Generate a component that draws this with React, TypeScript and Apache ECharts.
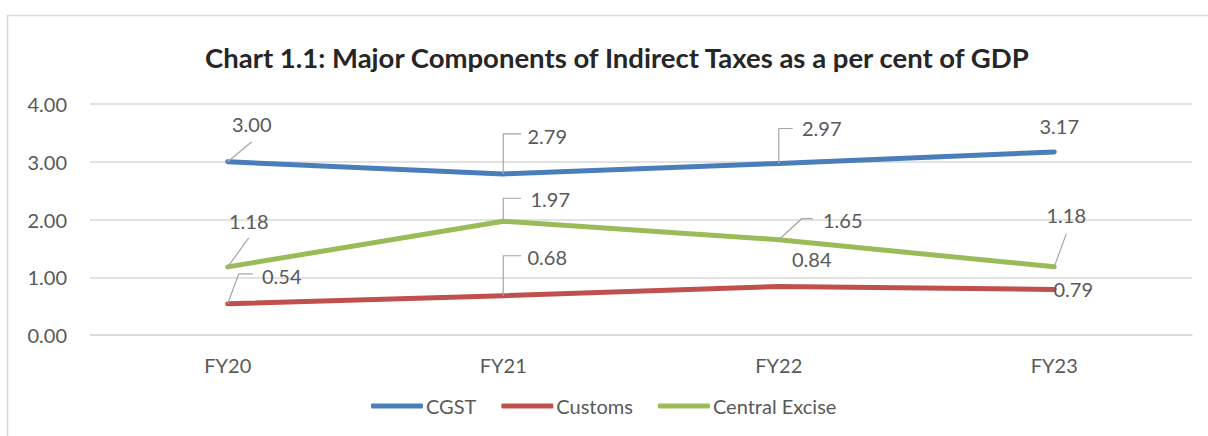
import React, { useEffect, useRef } from "react";
import * as echarts from "echarts";

const categories = ["FY20", "FY21", "FY22", "FY23"];
const cgst = [3.0, 2.79, 2.97, 3.17];
const customs = [0.54, 0.68, 0.84, 0.79];
const excise = [1.18, 1.97, 1.65, 1.18];
const seriesNames = ["CGST", "Customs", "Central Excise"];
const yTicks = [0, 1, 2, 3, 4];

const COLORS = ["#4A7EBB", "#C0504D", "#9BBB59"];
const FONT = "Lato";

// label placement (offsets from point, in px) and callout lines
type Place = { dx: number; dy: number; line: number[][] | null };
const placements: Place[][] = [
  [
    { dx: 24, dy: -38, line: [[0, 0], [24, -20]] },
    { dx: 44, dy: -38, line: [[0, 0], [0, -40], [18, -40]] },
    { dx: 43, dy: -35, line: [[0, 0], [0, -35], [14, -35]] },
    { dx: 5, dy: -26, line: null },
  ],
  [
    { dx: 54, dy: -28, line: [[0, 0], [11, -30], [25, -30]] },
    { dx: 44, dy: -39, line: [[0, 0], [0, -40], [18, -40]] },
    { dx: 33, dy: -27, line: null },
    { dx: 19, dy: 0, line: null },
  ],
  [
    { dx: 21, dy: -46, line: [[0, 0], [21, -29]] },
    { dx: 47, dy: -22, line: [[0, 0], [0, -23], [18, -23]] },
    { dx: 64, dy: -20, line: [[0, 0], [23, -21], [34, -21]] },
    { dx: 12, dy: -52, line: [[0, 0], [12, -33]] },
  ],
];

export default function App() {
  const ref = useRef<HTMLDivElement>(null);
  useEffect(() => {
    document.body.style.margin = "0";
    const chart = echarts.init(ref.current!, null, { renderer: "svg" });
    const allData = [cgst, customs, excise];

    const lineSeries = allData.map((d, si) => ({
      name: seriesNames[si],
      type: "line",
      data: d,
      symbol: "none",
      lineStyle: { width: 5, color: COLORS[si], cap: "round", join: "round" },
      itemStyle: { color: COLORS[si] },
      z: 2,
    }));

    const labelSeries = allData.map((d, si) => ({
      name: seriesNames[si] + " labels",
      type: "custom",
      z: 5,
      silent: true,
      data: d.map((v, i) => [i, v]),
      renderItem: (params: any, api: any) => {
        const i = params.dataIndex;
        const pt = api.coord([api.value(0), api.value(1)]);
        const p = placements[si][i];
        const children: any[] = [];
        if (p.line) {
          children.push({
            type: "polyline",
            shape: { points: p.line.map((q) => [pt[0] + q[0], pt[1] + q[1]]) },
            style: { stroke: "#A6A6A6", lineWidth: 1.2, fill: "none" },
          });
        }
        children.push({
          type: "text",
          x: pt[0] + p.dx,
          y: pt[1] + p.dy,
          style: {
            text: api.value(1).toFixed(2),
            fill: "#595959",
            font: `20px ${FONT}`,
            align: "center",
            verticalAlign: "middle",
          },
        });
        return { type: "group", children };
      },
    }));

    chart.setOption({
      animation: false,
      backgroundColor: "#ffffff",
      textStyle: { fontFamily: FONT },
      title: {
        text: "Chart 1.1: Major Components of Indirect Taxes as a per cent of GDP",
        left: 200,
        top: 38,
        textStyle: { fontFamily: FONT, fontSize: 27.5, fontWeight: "bold", color: "#262626" },
      },
      graphic: [
        {
          type: "rect",
          shape: { x: 7.5, y: 15.5, width: 1220, height: 440 },
          style: { fill: "none", stroke: "#D9D9D9", lineWidth: 1.5 },
          silent: true,
        },
      ],
      legend: {
        data: seriesNames,
        left: 366,
        top: 391,
        icon: "roundRect",
        itemWidth: 52,
        itemHeight: 5,
        itemGap: 25,
        textStyle: { fontFamily: FONT, fontSize: 20, color: "#595959", padding: [0, 0, 0, -2] },
      },
      grid: { left: 90, right: 16, top: 104, bottom: 101, containLabel: false },
      xAxis: {
        type: "category",
        data: categories,
        boundaryGap: true,
        axisLine: { show: true, lineStyle: { color: "#D9D9D9", width: 1.5 } },
        axisTick: { show: false },
        axisLabel: { color: "#595959", fontSize: 20, fontFamily: FONT, margin: 20 },
      },
      yAxis: {
        type: "value",
        min: yTicks[0],
        max: yTicks[yTicks.length - 1],
        interval: 1,
        axisLine: { show: false },
        axisTick: { show: false },
        splitLine: { lineStyle: { color: "#D9D9D9", width: 1.5 } },
        axisLabel: {
          color: "#595959",
          fontSize: 20,
          fontFamily: FONT,
          margin: 23,
          formatter: (v: number) => v.toFixed(2),
        },
      },
      series: [...lineSeries, ...labelSeries],
    });
    return () => chart.dispose();
  }, []);
  return <div ref={ref} style={{ width: 1208, height: 436 }} />;
}
